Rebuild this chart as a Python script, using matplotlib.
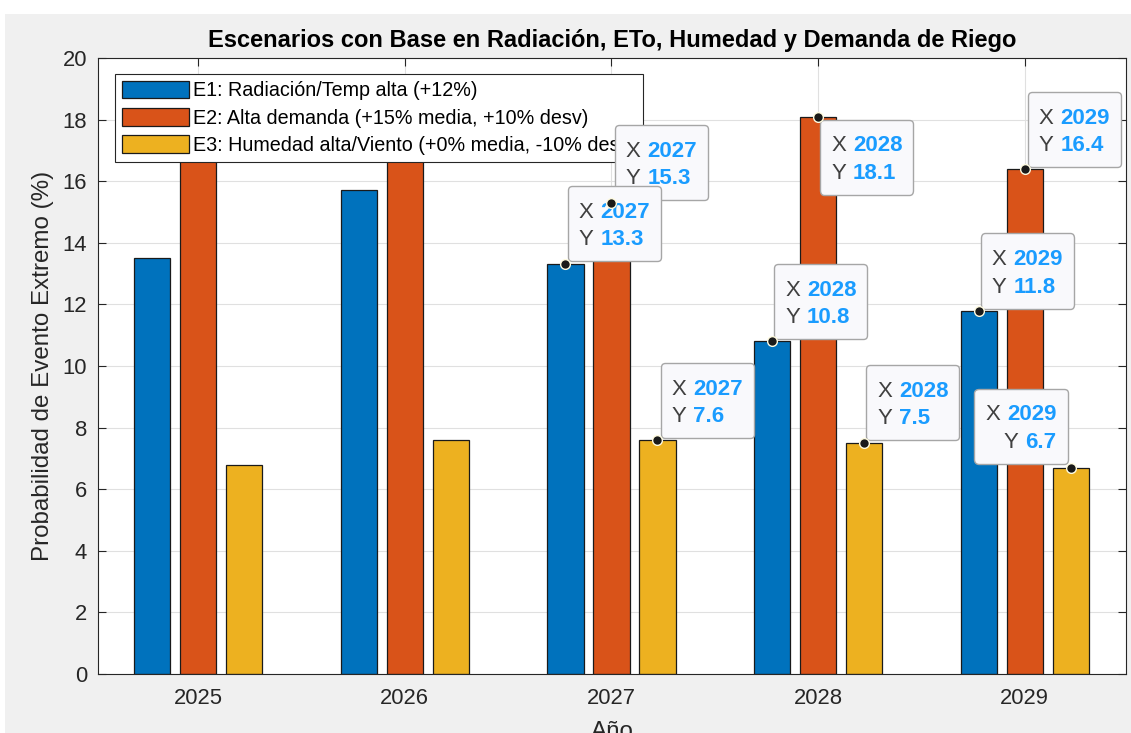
import numpy as np
import matplotlib
matplotlib.use('Agg')
import matplotlib.pyplot as plt
from matplotlib.offsetbox import TextArea, HPacker, VPacker, DrawingArea, AnnotationBbox
from matplotlib.patches import Rectangle

plt.rcParams['font.family'] = ['Liberation Sans', 'DejaVu Sans']

years = np.array([2025, 2026, 2027, 2028, 2029])
e1 = np.array([13.5, 15.7, 13.3, 10.8, 11.8])
e2 = np.array([17.2, 17.6, 15.3, 18.1, 16.4])
e3 = np.array([6.8, 7.6, 7.6, 7.5, 6.7])
labels = ['E1: Radiación/Temp alta (+12%)',
          'E2: Alta demanda (+15% media, +10% desv)',
          'E3: Humedad alta/Viento (+0% media, -10% desv)']
colors = ['#0072BD', '#D95319', '#EDB120']

# datatips: (serie, año) -> desplazamiento de la caja en px y esquina
tips = {(1, 2027): (3, 3, 0, 0), (0, 2027): (2, 3, 0, 0),
        (1, 2028): (2, -3, 0, 1), (1, 2029): (3, 2, 0, 0),
        (0, 2028): (2, 2, 0, 0), (0, 2029): (2, 2, 0, 0),
        (2, 2027): (3, 2, 0, 0), (2, 2028): (2, 3, 0, 0),
        (2, 2029): (-3, 4, 1, 0)}

fig = plt.figure(figsize=(11.31, 7.33), dpi=100, facecolor='#f0f0f0')
fig.patches.append(Rectangle((0, 1 - 14/733), 1, 14/733, transform=fig.transFigure,
                             facecolor='white', edgecolor='none', zorder=-1))
fig.patches.append(Rectangle((0, 0), 5/1131, 1, transform=fig.transFigure,
                             facecolor='white', edgecolor='none', zorder=-1))
ax = fig.add_axes([98/1131, 59/733, 1028/1131, 616/733])

series = [e1, e2, e3]
w = 0.175
offs = [-0.2226, 0, 0.2226]
for i in range(3):
    ax.bar(years + offs[i], series[i], w, color=colors[i], edgecolor='#1a1a1a',
           linewidth=0.9, label=labels[i], zorder=2)

ax.set_xlim(2024.515, 2029.49)
ax.set_ylim(0, 20)
ax.set_xticks(years)
ax.set_yticks(np.arange(0, 21, 2))
ax.grid(True, color='#e0e0e0', linewidth=0.8, zorder=0)
ax.set_axisbelow(True)
ax.tick_params(direction='in', top=True, right=True, length=6, width=0.8,
               color='#262626', labelsize=15.8, labelcolor='#262626')
ax.tick_params(axis='y', pad=8)
ax.tick_params(axis='x', pad=10)
for s in ax.spines.values():
    s.set_color('#262626')
    s.set_linewidth(0.8)

ax.set_title('Escenarios con Base en Radiación, ETo, Humedad y Demanda de Riego',
             fontsize=17, fontweight='bold', pad=8, color='#000000')
ax.set_ylabel('Probabilidad de Evento Extremo (%)', fontsize=17.4, color='#262626', labelpad=6)
ax.set_xlabel('Año', fontsize=17.4, color='#262626', labelpad=9)

leg = ax.legend(loc='upper left', bbox_to_anchor=(17/1028, 1 - 16/616), fontsize=14.2,
                frameon=True, fancybox=False, edgecolor='#262626', framealpha=1,
                handlelength=3.4, handleheight=1.0, handletextpad=0.25,
                labelspacing=0.4, borderpad=0.33, borderaxespad=0)
leg.get_frame().set_linewidth(0.8)
leg.set_zorder(5)

pad_px = 11
for n, ((s, yr), (dx, dy, bx, by)) in enumerate(tips.items()):
    xv = yr + offs[s]
    yv = series[s][list(years).index(yr)]
    ax.plot(xv, yv, 'o', ms=7, mfc='#1a1a1a', mec='#fffbe0', mew=1, zorder=20, clip_on=False)
    rx = HPacker(children=[TextArea('X', textprops=dict(color='#404040', fontsize=16)),
                           TextArea(str(yr), textprops=dict(color='#1a9cff', fontsize=16,
                                                            fontweight='bold'))],
                 pad=0, sep=5)
    ry = HPacker(children=[TextArea('Y', textprops=dict(color='#404040', fontsize=16)),
                           TextArea(f'{yv:.1f}', textprops=dict(color='#1a9cff', fontsize=16,
                                                                fontweight='bold'))],
                 pad=0, sep=5)
    box = VPacker(children=[DrawingArea(1, 3.5), rx, DrawingArea(1, 4.5), ry],
                  pad=0, sep=0, align='right' if bx == 1 else 'left')
    cx = dx + (pad_px if bx == 0 else -pad_px)
    cy = dy + (pad_px if by == 0 else -pad_px)
    ab = AnnotationBbox(box, (xv, yv), xybox=(cx, cy), boxcoords='offset pixels',
                        box_alignment=(bx, by), frameon=True, fontsize=10,
                        bboxprops=dict(boxstyle='round,pad=0.79,rounding_size=0.3',
                                       facecolor='#f9f9fc', edgecolor='#a6a6a6', linewidth=1))
    ab.set_zorder(6 + n * 0.1)
    ax.add_artist(ab)

fig.savefig('out.png', dpi=100, facecolor=fig.get_facecolor())
